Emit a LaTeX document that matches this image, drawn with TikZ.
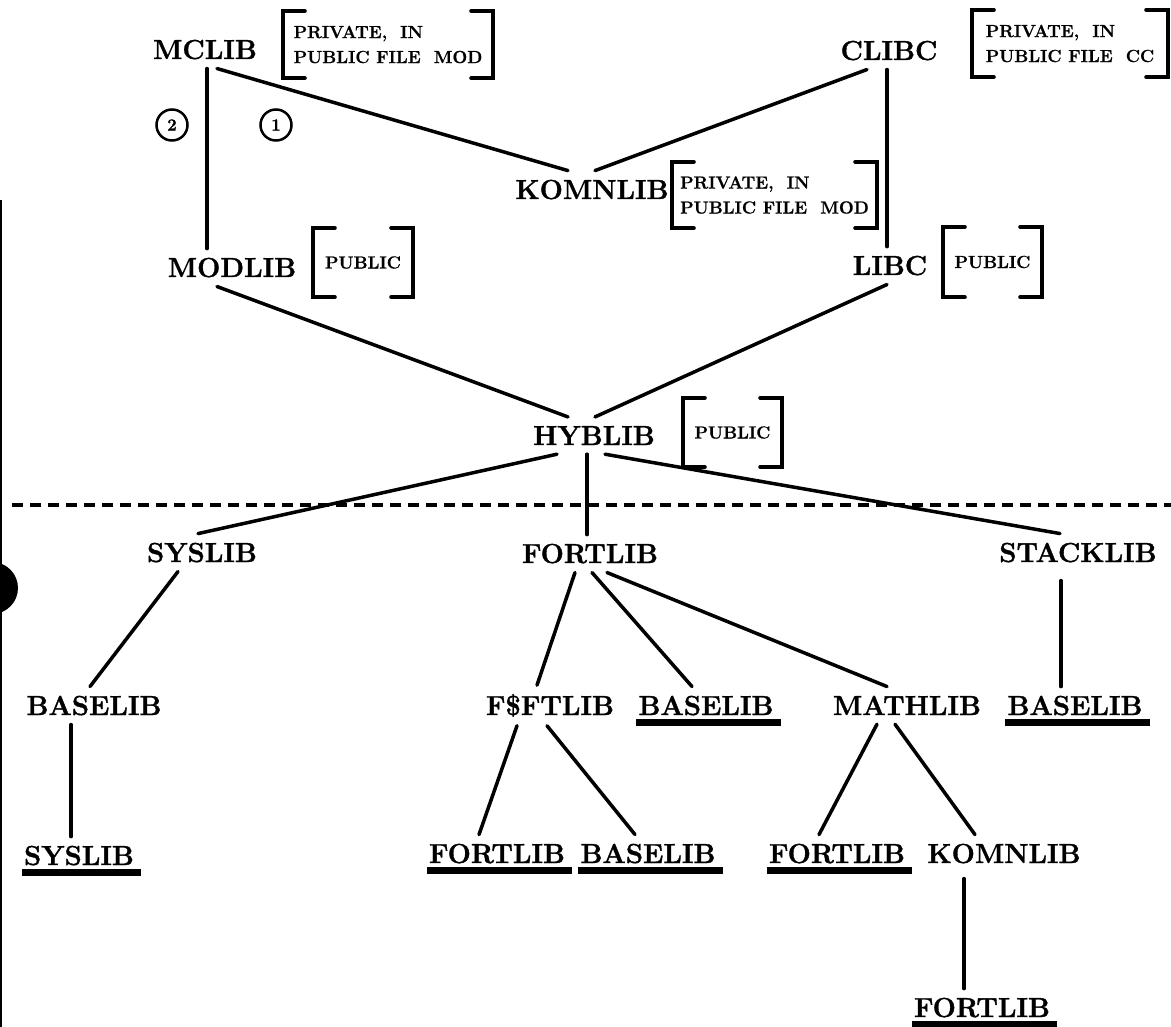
\documentclass[tikz,border=0pt]{standalone}
\usepackage{fontspec}
\newfontfamily\heavyfam{Latin Modern Roman}[FakeBold=1.2]
\newfontfamily\smallheavy{Latin Modern Roman}[FakeBold=0.8]
\usetikzlibrary{calc}
\tikzset{
  lbl/.style={font=\fontsize{27.5}{27.5}\selectfont\heavyfam\bfseries, anchor=base, inner xsep=0pt, inner ysep=9pt},
  conn/.style={line width=3.5pt, line cap=round},
  brkbox/.style={font=\fontsize{17.5}{25}\selectfont\smallheavy\bfseries, align=left, inner sep=0pt},
  brkline/.style={line width=4pt, line cap=round},
  num/.style={circle, draw, line width=2.5pt, minimum size=31pt, inner sep=0pt, font=\fontsize{17}{17}\selectfont\heavyfam\bfseries},
  uline/.style={fill=black},
}
\newcommand\bracketsof[1]{%
  \draw[brkline] ([xshift=22pt]#1.north west) -- (#1.north west) -- (#1.south west) -- ([xshift=22pt]#1.south west);
  \draw[brkline] ([xshift=-22pt]#1.north east) -- (#1.north east) -- (#1.south east) -- ([xshift=-22pt]#1.south east);}
\begin{document}
\begin{tikzpicture}[x=1pt,y=-1pt]
\fill[white] (0,0) rectangle (1171,1027);
\useasboundingbox (0,0) rectangle (1171,1027);

% scan edge
\coordinate (edgeT) at (1,200);
\coordinate (edgeB) at (1,1027);
\draw[line width=2pt] (edgeT) -- (edgeB);
\fill (-8,588) circle (26pt);

% main labels
\node[lbl] (mclib) at (205,59) {MCLIB};
\node[lbl] (clibc) at (889,60) {CLIBC};
\node[lbl] (komn) at (592,199) {KOMNLIB};
\node[lbl] (modlib) at (232,277) {MODLIB};
\node[lbl] (libc) at (890,275) {LIBC};
\node[lbl] (hyb) at (594,445) {HYBLIB};
\node[lbl] (sys) at (202,562) {SYSLIB};
\node[lbl] (fort) at (590,563) {FORTLIB};
\node[lbl] (stack) at (1078,562) {STACKLIB};
\node[lbl] (bl1) at (94,715) {BASELIB};
\node[lbl] (fsft) at (550,715) {F\$FTLIB};
\node[lbl] (bl2) at (706,715) {BASELIB};
\node[lbl] (math) at (907,715) {MATHLIB};
\node[lbl] (bl3) at (1075,715) {BASELIB};
\node[lbl] (sys2) at (79,865) {SYSLIB};
\node[lbl] (fl2) at (497,863) {FORTLIB};
\node[lbl] (bl4) at (648,863) {BASELIB};
\node[lbl] (fl3) at (837,863) {FORTLIB};
\node[lbl] (komn2) at (1004,863) {KOMNLIB};
\node[lbl] (fl4) at (982,1017) {FORTLIB};

% underlines
\foreach \n in {bl2,bl3,sys2,fl2,bl4,fl3,fl4}
  \fill[uline] ($(\n.base west)+(-2,4)$) rectangle ($(\n.base east)+(7,11)$);

% bracket boxes
\node[brkbox, minimum width=210pt, minimum height=67pt] (mcb) at (388,44.5) {PRIVATE,\ \ IN\\PUBLIC FILE\ \ MOD};
\node[brkbox, minimum width=196pt, minimum height=67pt] (clb) at (1070,43.5) {PRIVATE,\ \ IN\\PUBLIC FILE\ \ CC};
\node[brkbox, minimum width=205pt, minimum height=66pt] (kmb) at (774.5,195) {PRIVATE,\ \ IN\\PUBLIC FILE\ \ MOD};
\node[brkbox, minimum width=100pt, minimum height=69pt] (mdb) at (363,262.5) {PUBLIC};
\node[brkbox, minimum width=99pt, minimum height=70pt] (lcb) at (992.5,262) {PUBLIC};
\node[brkbox, minimum width=99pt, minimum height=69pt] (hyb2) at (732.5,432.5) {PUBLIC};
\bracketsof{mcb}
\bracketsof{clb}
\bracketsof{kmb}
\bracketsof{mdb}
\bracketsof{lcb}
\bracketsof{hyb2}

% numbered circles
\node[num] (c2) at (172,125) {2};
\node[num] (c1) at (276,125) {1};

% dashed separator
\coordinate (dl) at (12,505);
\coordinate (dr) at (1175,505);
\draw[line width=3.5pt, dash pattern=on 11pt off 7pt] (dl) -- (dr);

% connectors
\draw[conn] ([xshift=12pt]mclib.south) -- ([xshift=-24pt]komn.north);
\draw[conn] ([xshift=-22pt]clibc.south) -- ([xshift=3pt]komn.north);
\draw[conn] ([xshift=2pt]mclib.south) -- ([xshift=-25pt]modlib.north);
\draw[conn] ([xshift=-2pt]clibc.south) -- ([xshift=-3pt]libc.north);
\draw[conn] ([xshift=-15pt]modlib.south) -- ([xshift=-26pt]hyb.north);
\draw[conn] ([xshift=-3pt]libc.south) -- ([xshift=1pt]hyb.north);
\draw[conn] ([xshift=-37pt]hyb.south) -- ([xshift=-4pt]sys.north);
\draw[conn] ([xshift=-7pt]hyb.south) -- ([xshift=-3pt]fort.north);
\draw[conn] ([xshift=11pt]hyb.south) -- ([xshift=-18pt]stack.north);
\draw[conn] ([xshift=-24pt]sys.south) -- ([xshift=-4pt]bl1.north);
\draw[conn] ([xshift=-23pt]bl1.south) -- ([xshift=-8pt]sys2.north);
\draw[conn] ([xshift=-15pt]fort.south) -- ([xshift=-13pt]fsft.north);
\draw[conn] ([xshift=2pt]fort.south) -- ([xshift=-14pt]bl2.north);
\draw[conn] ([xshift=17pt]fort.south) -- ([xshift=-20pt]math.north);
\draw[conn] ([xshift=-17pt,yshift=-9pt]stack.south) -- ([xshift=-14pt]bl3.north);
\draw[conn] ([xshift=-33pt]fsft.south) -- ([xshift=-18pt]fl2.north);
\draw[conn] ([xshift=-3pt]fsft.south) -- ([xshift=-13pt]bl4.north);
\draw[conn] ([xshift=-30pt]math.south) -- ([xshift=-18pt]fl3.north);
\draw[conn] ([xshift=-12pt]math.south) -- ([xshift=-29pt]komn2.north);
\draw[conn] ([xshift=-40pt,yshift=-6pt]komn2.south) -- ([xshift=-18pt]fl4.north);
\end{tikzpicture}
\end{document}
